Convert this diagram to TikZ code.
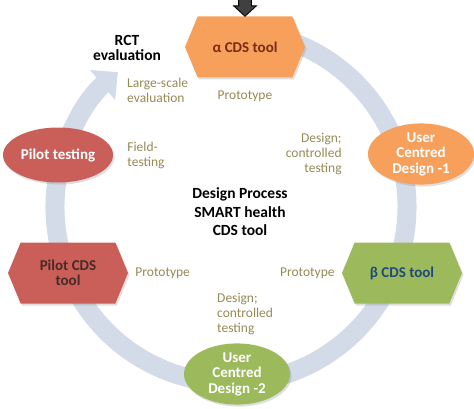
\documentclass[tikz,border=0pt]{standalone}
\usepackage{fontspec}
\setmainfont{Carlito}
\usepackage{tikz}
\usetikzlibrary{positioning,shapes.geometric,shapes.symbols,shapes.arrows,arrows.meta,shadows}

\definecolor{toolorange}{RGB}{247,160,92}
\definecolor{toolred}{RGB}{202,95,90}
\definecolor{toolgreen}{RGB}{156,186,92}
\definecolor{ringblue}{RGB}{211,219,233}
\definecolor{notecolor}{RGB}{148,138,84}
\definecolor{alphatext}{RGB}{122,42,22}
\definecolor{betatext}{RGB}{31,73,125}
\definecolor{pilottext}{RGB}{70,42,40}

\begin{document}
\begin{tikzpicture}[
  x=1pt, y=1pt,
  node distance=8pt and 8pt,
  hexbox/.style={shape=signal, signal to=east and west, signal pointer angle=135,
    minimum width=120pt, minimum height=61pt, inner sep=2pt, align=center,
    font=\bfseries\fontsize{15}{15.5}\selectfont,
    drop shadow={shadow xshift=1.5pt, shadow yshift=-2pt, opacity=0.25}},
  ovalbox/.style={ellipse, minimum width=106pt, minimum height=57pt, inner sep=0pt,
    align=center, text=white, font=\bfseries\fontsize{15}{15.5}\selectfont,
    drop shadow={shadow xshift=1.5pt, shadow yshift=-2pt, opacity=0.25}},
  note/.style={text=notecolor, align=left, inner sep=0pt,
    font=\fontsize{13.5}{15}\selectfont},
  heading/.style={align=center, font=\bfseries\fontsize{15.5}{18.5}\selectfont}
]
\useasboundingbox (0,0) rectangle (474,408);

% Cycle band
\coordinate (hub) at (231,201);
\draw[line width=19pt, ringblue, -{Triangle[width=38pt,length=20pt]}]
  (hub) ++(80:176) arc[start angle=80, end angle=-230, radius=176];

% Tools and design steps
\node[hexbox, fill=toolorange, text=alphatext] (alpha) at (245,361) {α CDS tool};
\node[ovalbox, fill=toolorange] (ucd1) at (421,254) {User\\Centred\\Design -1};
\node[hexbox, fill=toolgreen, text=betatext] (beta) at (402,135) {β CDS tool};
\node[ovalbox, fill=toolgreen] (ucd2) at (237,34) {User\\Centred\\Design -2};
\node[hexbox, fill=toolred, text=pilottext] (pilotcds) at (68,135) {Pilot CDS\\tool};
\node[ovalbox, fill=toolred, minimum width=110pt, minimum height=55pt] (pilottest) at (58,253) {Pilot testing};

% Input arrow
\node[single arrow, draw=black, fill=darkgray, shape border rotate=270,
  minimum height=19pt, single arrow head extend=5pt, single arrow tip angle=95,
  inner sep=6pt, outer sep=0pt, line width=0.8pt, above=0pt of alpha] (entry) {};

% Step notes
\node[note, below=13pt of alpha] (protoa) {Prototype};
\node[note, align=right, left=26pt of ucd1] (designa) {Design;\\controlled\\testing};
\node[note, left=7pt of beta] (protob) {Prototype};
\node[note, anchor=west] (designb) at (217,94) {Design;\\controlled\\testing};
\node[note, right=7pt of pilotcds] (protoc) {Prototype};
\node[note, right=14pt of pilottest] (field) {Field-\\testing};
\node[note, anchor=west] (largescale) at (127,318) {Large-scale\\evaluation};

% Titles
\node[heading] (title) at (240,196) {Design Process\\SMART health\\CDS tool};
\node[heading, font=\bfseries\fontsize{15.5}{15.5}\selectfont] (rct) at (127,360) {RCT\\evaluation};

\end{tikzpicture}
\end{document}
